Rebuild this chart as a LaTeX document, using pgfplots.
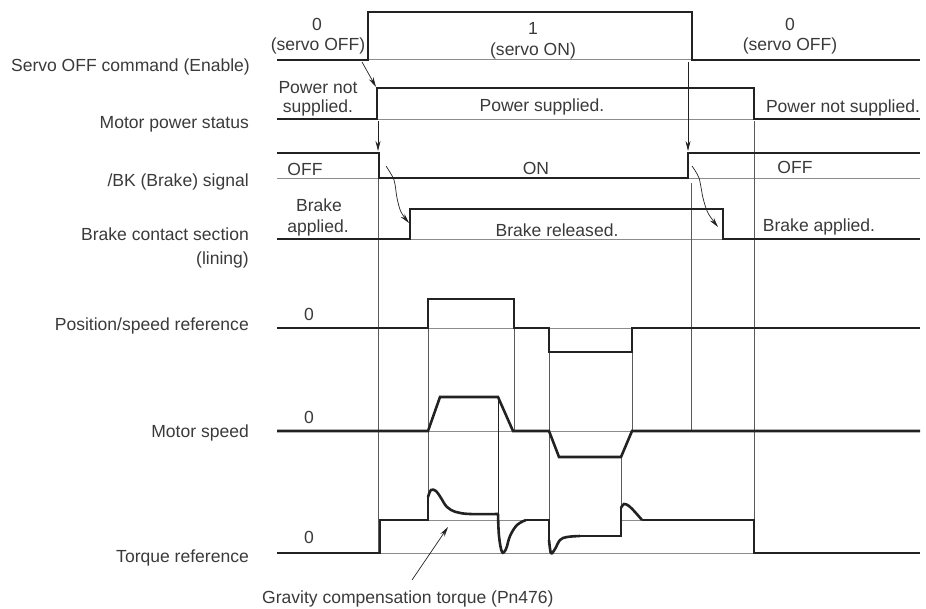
\documentclass[border=0pt]{standalone}
\usepackage{fontspec}
\setmainfont{Liberation Sans}
\usepackage{pgfplots}
\pgfplotsset{compat=1.18}
\usetikzlibrary{arrows.meta}
\definecolor{ink}{HTML}{222222}
\definecolor{txt}{HTML}{3A3A3A}
\definecolor{base}{HTML}{8C8C8C}
\definecolor{vline}{HTML}{5A5A5A}
\newcommand{\lab}{\fontsize{17.6}{20}\selectfont}
\begin{document}
\begin{tikzpicture}[every node/.style={font=\lab, text=txt, inner sep=0pt}]
\begin{axis}[name=ax, scale only axis, width=926bp, height=609bp,
  xmin=0, xmax=926, ymin=0, ymax=609, y dir=reverse,
  hide axis, clip=false]

% thin baselines
\pgfplotsset{thin base/.style={base, line width=0.9pt}}
\addplot[thin base] coordinates {(368,59.5) (692,59.5)};
\addplot[thin base] coordinates {(377,119) (754,119)};
\addplot[thin base] coordinates {(277,178) (920,178)};
\addplot[thin base] coordinates {(410,239) (723,239)};
\addplot[thin base] coordinates {(428,328) (514,328)};
\addplot[thin base] coordinates {(549,328) (632,328)};
\addplot[thin base] coordinates {(428,431) (513,431)};
\addplot[thin base] coordinates {(549,431) (632,431)};
\addplot[thin base] coordinates {(380,553) (754,553)};
\addplot[thin base] coordinates {(428,520) (549,520)};
\addplot[thin base] coordinates {(621,520) (642,520)};

% vertical guide lines
\pgfplotsset{guide/.style={vline, line width=0.8pt}}
\addplot[guide] coordinates {(378,178) (378,553)};
\addplot[guide] coordinates {(691,183) (691,431)};
\addplot[guide] coordinates {(754,121) (754,553)};
\addplot[guide] coordinates {(428,328) (428,496)};
\addplot[ink, line width=0.8pt] coordinates {(498,397) (498,514)};
\addplot[guide] coordinates {(514,328) (514,431)};
\addplot[guide] coordinates {(549,352) (549,553)};
\addplot[guide] coordinates {(621,457) (621,505)};
\addplot[guide] coordinates {(632,328) (632,431)};

% arrows
\pgfplotsset{arr/.style={ink, line width=0.7pt, -{Stealth[length=10pt, width=5pt]}}}
\addplot[arr] coordinates {(378,121) (378,151)};
\addplot[arr] coordinates {(688,62) (688,151)};
\addplot[arr] coordinates {(362,62) (376,87)};
\addplot[arr, smooth] coordinates {(386,166) (394,180) (397,198) (401,212) (409,223)};
\addplot[arr, smooth] coordinates {(692,166) (699,178) (703,198) (708,213) (718,227)};
\addplot[arr] coordinates {(412,580) (448,527)};

% signals
\pgfplotsset{sig/.style={ink, line width=2.6pt, line join=miter}}
\addplot[sig] coordinates {(277,60) (368,60) (368,12) (692,12) (692,60) (920,60)};
\addplot[sig] coordinates {(277,119) (377,119) (377,88) (754,88) (754,119) (920,119)};
\addplot[sig] coordinates {(277,153) (379,153) (379,178) (688,178) (688,153) (920,153)};
\addplot[sig] coordinates {(277,239) (410,239) (410,209) (723,209) (723,239) (920,239)};
\addplot[sig] coordinates {(277,328) (428,328) (428,299) (514,299) (514,328) (549,328) (549,352) (632,352) (632,328) (920,328)};
\addplot[sig] coordinates {(277,431) (428,431) (440,397) (498,397) (513,431) (549,431) (559,457) (621,457) (632,431) (920,431)};
% torque reference
\addplot[sig] coordinates {(277,553) (380,553) (380,520) (428,520) (428,497)};
\addplot[sig, smooth, tension=0.6] coordinates {(428,497) (431,490) (436,491) (441,498) (447,507) (456,512) (470,514) (498,514)};
\addplot[sig, smooth, tension=0.6] coordinates {(498,514) (499,536) (502,552) (506,549) (510,536) (517,525) (526,520)};
\addplot[sig] coordinates {(526,520) (549,520) (549,540)};
\addplot[sig, smooth, tension=0.6] coordinates {(549,540) (551,553) (555,549) (560,540) (567,537) (580,536)};
\addplot[sig] coordinates {(580,536) (621,536) (621,508)};
\addplot[sig, smooth, tension=0.6] coordinates {(621,508) (624,504) (629,506) (635,512) (642,520)};
\addplot[sig] coordinates {(642,520) (754,520) (754,553) (920,553)};

% left labels
\node[anchor=east] at (axis cs:250,67) {Servo OFF command (Enable)};
\node[anchor=east] at (axis cs:249,124) {Motor power status};
\node[anchor=east] at (axis cs:249,182) {/BK (Brake) signal};
\node[anchor=east] at (axis cs:249,234) {Brake contact section};
\node[anchor=east] at (axis cs:249,260) {(lining)};
\node[anchor=east] at (axis cs:249,326) {Position/speed reference};
\node[anchor=east] at (axis cs:249,433) {Motor speed};
\node[anchor=east] at (axis cs:249,558) {Torque reference};

% state labels
\node at (axis cs:317,24) {0};
\node at (axis cs:318,46) {(servo OFF)};
\node at (axis cs:533,28) {1};
\node at (axis cs:533,51) {(servo ON)};
\node at (axis cs:790,24) {0};
\node at (axis cs:790,46) {(servo OFF)};
\node at (axis cs:318,88) {Power not};
\node at (axis cs:318,108) {supplied.};
\node at (axis cs:542,107) {Power supplied.};
\node at (axis cs:843,108) {Power not supplied.};
\node at (axis cs:305,169) {OFF};
\node at (axis cs:536,168) {ON};
\node at (axis cs:795,167) {OFF};
\node at (axis cs:319,205) {Brake};
\node at (axis cs:318,228) {applied.};
\node at (axis cs:557,230) {Brake released.};
\node at (axis cs:819,227) {Brake applied.};
\node at (axis cs:309,314) {0};
\node at (axis cs:309,417) {0};
\node at (axis cs:309,537) {0};
\node[anchor=west] at (axis cs:262,599) {Gravity compensation torque (Pn476)};
\end{axis}
\pgfresetboundingbox
\useasboundingbox (ax.south west) rectangle (ax.north east);
\end{tikzpicture}
\end{document}
